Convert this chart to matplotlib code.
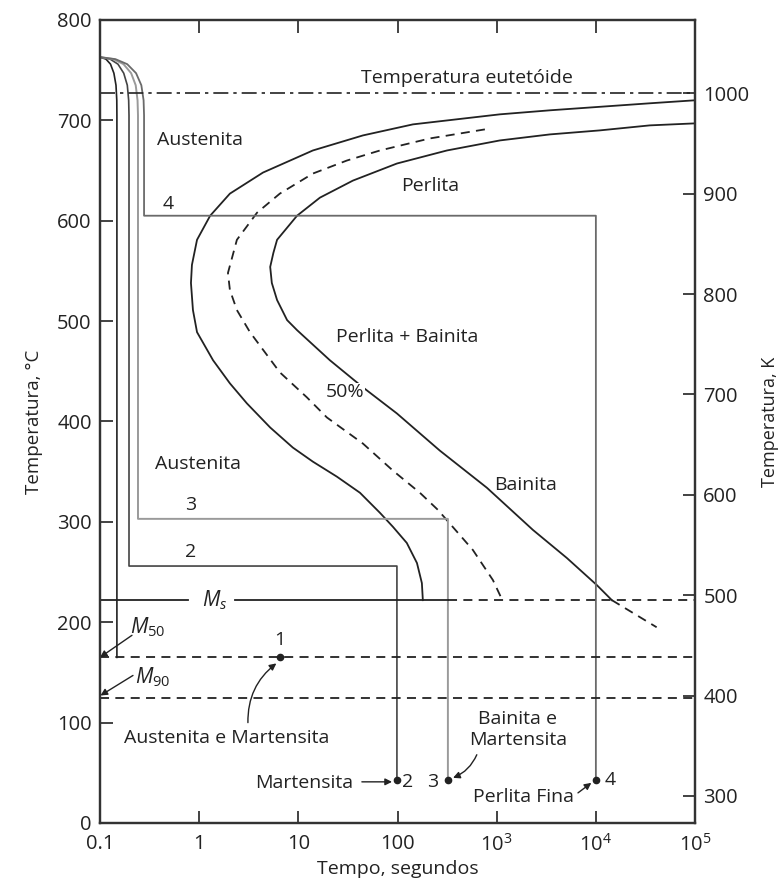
import matplotlib.pyplot as plt
import numpy as np

plt.rcParams['font.family'] = ['Open Sans', 'DejaVu Sans']
plt.rcParams['mathtext.fontset'] = 'custom'
plt.rcParams['mathtext.it'] = 'Open Sans:italic'
plt.rcParams['mathtext.rm'] = 'Open Sans'

ink = '#222222'

# curva de inicio da transformacao (t em s, T em C)
start_t = [1e5, 35000, 3436, 1077, 143, 44.8, 14.0, 4.4, 2.04, 1.29, 0.951, 0.845, 0.826,
           0.865, 0.951, 1.38, 2.04, 3.03, 5.2, 8.8, 14.0, 24.5, 41.8, 66.5, 90, 124, 157,
           176, 180]
start_T = [720, 717, 710, 706, 696, 685, 670, 648, 627, 605, 581, 556, 538,
           511, 489, 461, 438, 418, 394, 374, 360, 345, 329, 309, 295, 279, 259,
           239, 222]

# curva 50 %
half_t = [760, 212, 66.5, 30.9, 14.0, 6.5, 3.83, 2.40, 1.95, 2.04, 2.40, 3.25, 6.5, 12.2,
          19.4, 44.8, 90, 168, 255, 575, 916, 1127]
half_T = [691, 682, 670, 660, 647, 627, 608, 581, 548, 531, 511, 489, 449, 424,
          404, 378, 351, 329, 312, 272, 242, 223]

# curva de fim da transformacao
end_t = [1e5, 35000, 10960, 3436, 1077, 315, 98.6, 35.5, 16.5, 9.7, 6.1, 5.6, 5.2, 5.4,
         6.1, 7.7, 9.7, 20.8, 44.8, 98.6, 267, 796, 2317, 5100, 10230, 14500]
end_T = [697, 695, 690, 686, 680, 670, 657, 640, 623, 605, 581, 568, 554, 538,
         521, 501, 491, 461, 434, 408, 371, 334, 292, 264, 237, 222]
end_tail_t = [14500, 41000]
end_tail_T = [222, 195]

# trajetorias de resfriamento 1-4
cool_T = [763, 761, 756, 747, 735, 720, 705]
path1_t = [0.1, 0.1148, 0.1276, 0.138, 0.1449, 0.1476, 0.148, 0.148]
path1_T = cool_T + [165]
path2_t = [0.1, 0.1265, 0.1517, 0.1734, 0.1884, 0.1945, 0.196, 0.196, 98.6, 98.6]
path2_T = cool_T + [256, 256, 43]
path3_t = [0.1, 0.136, 0.1726, 0.206, 0.229, 0.239, 0.2415, 0.2415, 322, 322]
path3_T = cool_T + [303, 303, 43]
path4_t = [0.1, 0.143, 0.188, 0.231, 0.261, 0.275, 0.278, 0.278, 1e4, 1e4]
path4_T = cool_T + [605, 605, 43]

dots_t = [6.5, 98.6, 322, 1e4]
dots_T = [165, 43, 43, 43]

T_eut = 727
T_ms = 222
T_m50 = 165
T_m90 = 124.5

x_ticks = [0.1, 1, 10, 100, 1e3, 1e4, 1e5]
x_labels = ['0.1', '1', '10', '100', r'$10^3$', r'$10^4$', r'$10^5$']
y_ticks = list(range(0, 801, 100))
k_ticks = list(range(300, 1001, 100))

fig = plt.figure(figsize=(7.82, 8.88), dpi=100)
ax = fig.add_axes([0.1279, 0.0732, 0.7609, 0.9043])
ax.set_xscale('log')
ax.set_xlim(0.1, 1e5)
ax.set_ylim(0, 800)

lw = 1.3
dash = (0, (5, 3.5))
ax.plot(start_t, start_T, color=ink, lw=lw)
ax.plot(half_t, half_T, color=ink, lw=lw, ls=dash)
ax.plot(end_t, end_T, color=ink, lw=lw)
ax.plot(end_tail_t, end_tail_T, color=ink, lw=lw, ls=dash)

ax.plot(path1_t, path1_T, color=ink, lw=1.2)
ax.plot(path2_t, path2_T, color='#444444', lw=1.2)
ax.plot(path3_t, path3_T, color='#9a9a9a', lw=1.4)
ax.plot(path4_t, path4_T, color='#6a6a6a', lw=1.3)

ax.plot([0.1, 1e5], [T_eut, T_eut], color=ink, lw=1.2, ls=(0, (9, 3, 2, 3)))
ax.plot([0.1, 0.77], [T_ms, T_ms], color=ink, lw=1.3)
ax.plot([2.3, 322], [T_ms, T_ms], color=ink, lw=1.3)
ax.plot([322, 1e5], [T_ms, T_ms], color=ink, lw=1.3, ls=dash)
ax.plot([0.1, 1e5], [T_m50, T_m50], color=ink, lw=1.3, ls=dash)
ax.plot([0.1, 1e5], [T_m90, T_m90], color=ink, lw=1.3, ls=dash)

ax.plot(dots_t, dots_T, 'o', color=ink, ms=4.5)

fs = 14
ax.text(500, 742, 'Temperatura eutetóide', fontsize=fs, ha='center', va='center', color=ink)
ax.text(0.376, 680, 'Austenita', fontsize=fs, ha='left', va='center', color=ink)
ax.text(0.485, 617, '4', fontsize=fs, ha='center', va='center', color=ink)
ax.text(212, 635, 'Perlita', fontsize=fs, ha='center', va='center', color=ink)
ax.text(124, 484, 'Perlita + Bainita', fontsize=fs, ha='center', va='center', color=ink)
ax.text(29.5, 429, '50%', fontsize=fs, ha='center', va='center', color=ink,
        bbox=dict(facecolor='white', edgecolor='none', pad=0.5))
ax.text(0.358, 358, 'Austenita', fontsize=fs, ha='left', va='center', color=ink)
ax.text(0.826, 317, '3', fontsize=fs, ha='center', va='center', color=ink)
ax.text(0.826, 270, '2', fontsize=fs, ha='center', va='center', color=ink)
ax.text(1.44, T_ms, r'$M_s$', fontsize=fs + 1, ha='center', va='center', color=ink)
ax.text(1970, 337, 'Bainita', fontsize=fs, ha='center', va='center', color=ink)
ax.text(0.2, 195, r'$M_{\mathrm{50}}$', fontsize=fs + 1, ha='left', va='center', color=ink)
ax.text(0.225, 145, r'$M_{\mathrm{90}}$', fontsize=fs + 1, ha='left', va='center', color=ink)
ax.text(6.5, 182, '1', fontsize=fs, ha='center', va='center', color=ink)
ax.text(1.9, 85, 'Austenita e Martensita', fontsize=fs, ha='center', va='center', color=ink)
ax.text(35.5, 40, 'Martensita', fontsize=fs, ha='right', va='center', color=ink)
ax.text(127, 41, '2', fontsize=fs, ha='center', va='center', color=ink)
ax.text(227, 41, '3', fontsize=fs, ha='center', va='center', color=ink)
ax.text(1637, 93, 'Bainita e\nMartensita', fontsize=fs, ha='center', va='center',
        color=ink, linespacing=1.2)
ax.text(13800, 43, '4', fontsize=fs, ha='center', va='center', color=ink)
ax.text(1880, 26, 'Perlita Fina', fontsize=fs, ha='center', va='center', color=ink)

arrow = dict(arrowstyle='-|>', color=ink, lw=1.0, mutation_scale=10, shrinkA=0, shrinkB=0)
ax.annotate('', xy=(0.1, 165), xytext=(0.21, 187), arrowprops=arrow)
ax.annotate('', xy=(0.101, 127), xytext=(0.215, 147), arrowprops=arrow)
ax.annotate('', xy=(6.0, 159), xytext=(3.1, 100),
            arrowprops=dict(arrow, connectionstyle='arc3,rad=-0.25'))
ax.annotate('', xy=(88, 41), xytext=(43.7, 41), arrowprops=arrow)
ax.annotate('', xy=(363, 45), xytext=(630, 68),
            arrowprops=dict(arrow, connectionstyle='arc3,rad=-0.2'))
ax.annotate('', xy=(9000, 40), xytext=(6600, 30), arrowprops=arrow)

ax.set_xticks(x_ticks)
ax.set_xticklabels(x_labels)
ax.minorticks_off()
ax.set_yticks(y_ticks)
ax.tick_params(axis='both', direction='in', length=9, width=1.2, labelsize=14.5,
               colors=ink, top=True, pad=6)
ax.tick_params(axis='x', pad=8)
for s in ax.spines.values():
    s.set_linewidth(1.6)
    s.set_color('#333333')

ax.set_xlabel('Tempo, segundos', fontsize=14, color=ink, labelpad=3)
ax.set_ylabel('Temperatura, °C', fontsize=13.5, color=ink, labelpad=10)

axk = ax.twinx()
axk.set_ylim(0 + 273, 800 + 273)
axk.set_yticks(k_ticks)
axk.tick_params(axis='y', direction='in', length=9, width=1.2, labelsize=14.5,
                colors=ink, pad=6)
axk.set_ylabel('Temperatura, K', fontsize=13, color=ink, labelpad=8)
for s in axk.spines.values():
    s.set_linewidth(1.6)
    s.set_color('#333333')

fig.savefig('out.png', dpi=100)
